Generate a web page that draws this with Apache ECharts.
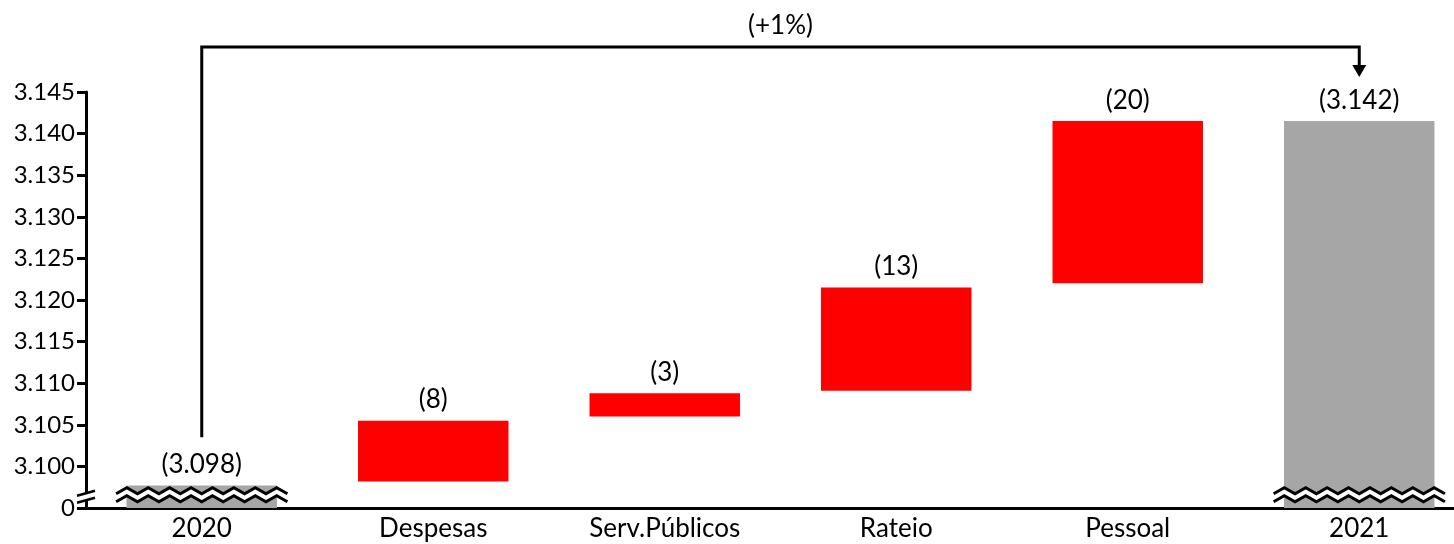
<!DOCTYPE html>
<html>
<head>
<meta charset="utf-8">
<script src="https://cdn.jsdelivr.net/npm/echarts@6/dist/echarts.min.js"></script>
<style>
  html, body { margin: 0; padding: 0; background: #fff; overflow: hidden; }
  /* the plot runs past the right edge of the window, as in the original */
  #chart { width: 1475px; height: 544px; }
</style>
</head>
<body>
<div id="chart"></div>
<script>
// categories and values
const categories = ['2020', 'Despesas', 'Serv.Públicos', 'Rateio', 'Pessoal', '2021'];
const barLabels = ['(3.098)', '(8)', '(3)', '(13)', '(20)', '(3.142)'];
const totals = [3.0977, null, null, null, null, 3.1415];
const stepFrom = [null, 3.0982, 3.1060, 3.1091, 3.1220, null];
const stepTo = [null, 3.1055, 3.1088, 3.1215, 3.1415, null];

// y axis: the bottom tick stands for 0 (broken axis)
const yMin = 3.095;
const yMax = 3.145;
const yStep = 0.005;
const yBreakValue = 3.0966;
const breakCats = [0, 5];

// arrow from 2020 to 2021
const changeLabel = '(+1%)';
const arrowFrom = 0;
const arrowTo = 5;
const arrowStartValue = 3.1035;

const FONT = 'Lato';

const chart = echarts.init(document.getElementById('chart'));

const baseData = stepFrom.map(v => v == null ? '-' : v);
const deltaData = stepFrom.map((v, i) => v == null ? '-' : +(stepTo[i] - v).toFixed(4));
const totalData = totals.map(v => v == null ? '-' : v);

const labelStyle = {
  show: true,
  position: 'top',
  distance: 8,
  fontFamily: FONT,
  fontSize: 26,
  color: '#000',
  formatter: p => barLabels[p.dataIndex]
};

function zigzag(x0, w, y, amp, n) {
  const pts = [];
  for (let i = 0; i <= n; i++) {
    pts.push([x0 + i * w / n, y + (i % 2 ? -amp : amp)]);
  }
  return pts;
}

const option = {
  backgroundColor: '#fff',
  animation: false,
  grid: { left: 86, top: 92, bottom: 36, right: 0 },
  xAxis: {
    type: 'category',
    data: categories,
    axisLine: { lineStyle: { color: '#000', width: 3 } },
    axisTick: { show: false },
    axisLabel: { color: '#000', fontFamily: FONT, fontSize: 26, margin: 8 }
  },
  yAxis: {
    type: 'value',
    min: yMin,
    max: yMax,
    interval: yStep,
    splitLine: { show: false },
    axisLine: { show: true, lineStyle: { color: '#000', width: 3 } },
    axisTick: { show: true, length: 9, lineStyle: { color: '#000', width: 3 } },
    axisLabel: {
      color: '#000', fontFamily: FONT, fontSize: 24, margin: 11,
      formatter: v => Math.abs(v - yMin) < 1e-6 ? '0' : v.toFixed(3)
    }
  },
  series: [
    {
      name: 'base',
      type: 'bar',
      stack: 'w',
      clip: true,
      barWidth: '65%',
      silent: true,
      itemStyle: { color: 'transparent' },
      data: baseData
    },
    {
      name: 'delta',
      type: 'bar',
      stack: 'w',
      clip: true,
      barWidth: '65%',
      itemStyle: { color: '#FF0000' },
      label: labelStyle,
      data: deltaData
    },
    {
      name: 'total',
      type: 'bar',
      stack: 'w',
      clip: true,
      barWidth: '65%',
      itemStyle: { color: '#A6A6A6' },
      label: labelStyle,
      data: totalData
    },
    {
      // zigzag break marks across the total bars
      name: 'barBreak',
      type: 'custom',
      z: 5,
      clip: false,
      silent: true,
      data: breakCats.map(c => [c, yBreakValue]),
      renderItem: (params, api) => {
        const p = api.coord([api.value(0), api.value(1)]);
        const w = api.size([1, 0])[0] * 0.74;
        const x0 = p[0] - w / 2;
        const top = zigzag(x0, w, p[1] - 4, 3, 16);
        const bot = zigzag(x0, w, p[1] + 4, 3, 16);
        return {
          type: 'group',
          children: [
            { type: 'polygon', shape: { points: top.concat(bot.slice().reverse()) }, style: { fill: '#fff' } },
            { type: 'polyline', shape: { points: top }, style: { stroke: '#000', lineWidth: 3, fill: null } },
            { type: 'polyline', shape: { points: bot }, style: { stroke: '#000', lineWidth: 3, fill: null } }
          ]
        };
      }
    },
    {
      // break on the y axis
      name: 'axisBreak',
      type: 'custom',
      z: 5,
      clip: false,
      silent: true,
      data: [[0, yBreakValue]],
      renderItem: (params, api) => {
        const y = api.coord([0, api.value(1)])[1];
        const x = params.coordSys.x;
        return {
          type: 'group',
          children: [
            { type: 'polygon', shape: { points: [[x - 9, y + 1], [x + 9, y - 4], [x + 9, y + 3], [x - 9, y + 8]] }, style: { fill: '#fff' } },
            { type: 'line', shape: { x1: x - 9, y1: y + 1, x2: x + 9, y2: y - 4 }, style: { stroke: '#000', lineWidth: 2.5 } },
            { type: 'line', shape: { x1: x - 9, y1: y + 8, x2: x + 9, y2: y + 3 }, style: { stroke: '#000', lineWidth: 2.5 } }
          ]
        };
      }
    },
    {
      // arrow 2020 -> 2021 with the change label
      name: 'arrow',
      type: 'custom',
      z: 5,
      clip: false,
      silent: true,
      data: [[arrowFrom, arrowTo, arrowStartValue]],
      renderItem: (params, api) => {
        const p0 = api.coord([api.value(0), api.value(2)]);
        const x1 = api.coord([api.value(1), yMax])[0];
        const topY = params.coordSys.y - 45;
        const tipY = params.coordSys.y - 15;
        return {
          type: 'group',
          children: [
            {
              type: 'polyline',
              shape: { points: [[p0[0], p0[1]], [p0[0], topY], [x1, topY], [x1, tipY - 10]] },
              style: { stroke: '#000', lineWidth: 3, fill: null }
            },
            {
              type: 'polygon',
              shape: { points: [[x1 - 7, tipY - 12], [x1 + 7, tipY - 12], [x1, tipY]] },
              style: { fill: '#000' }
            },
            {
              type: 'text',
              style: {
                text: changeLabel, x: (p0[0] + x1) / 2, y: topY - 21,
                align: 'center', verticalAlign: 'middle',
                font: '26px ' + FONT, fill: '#000'
              }
            }
          ]
        };
      }
    }
  ]
};

chart.setOption(option);
</script>
</body>
</html>
